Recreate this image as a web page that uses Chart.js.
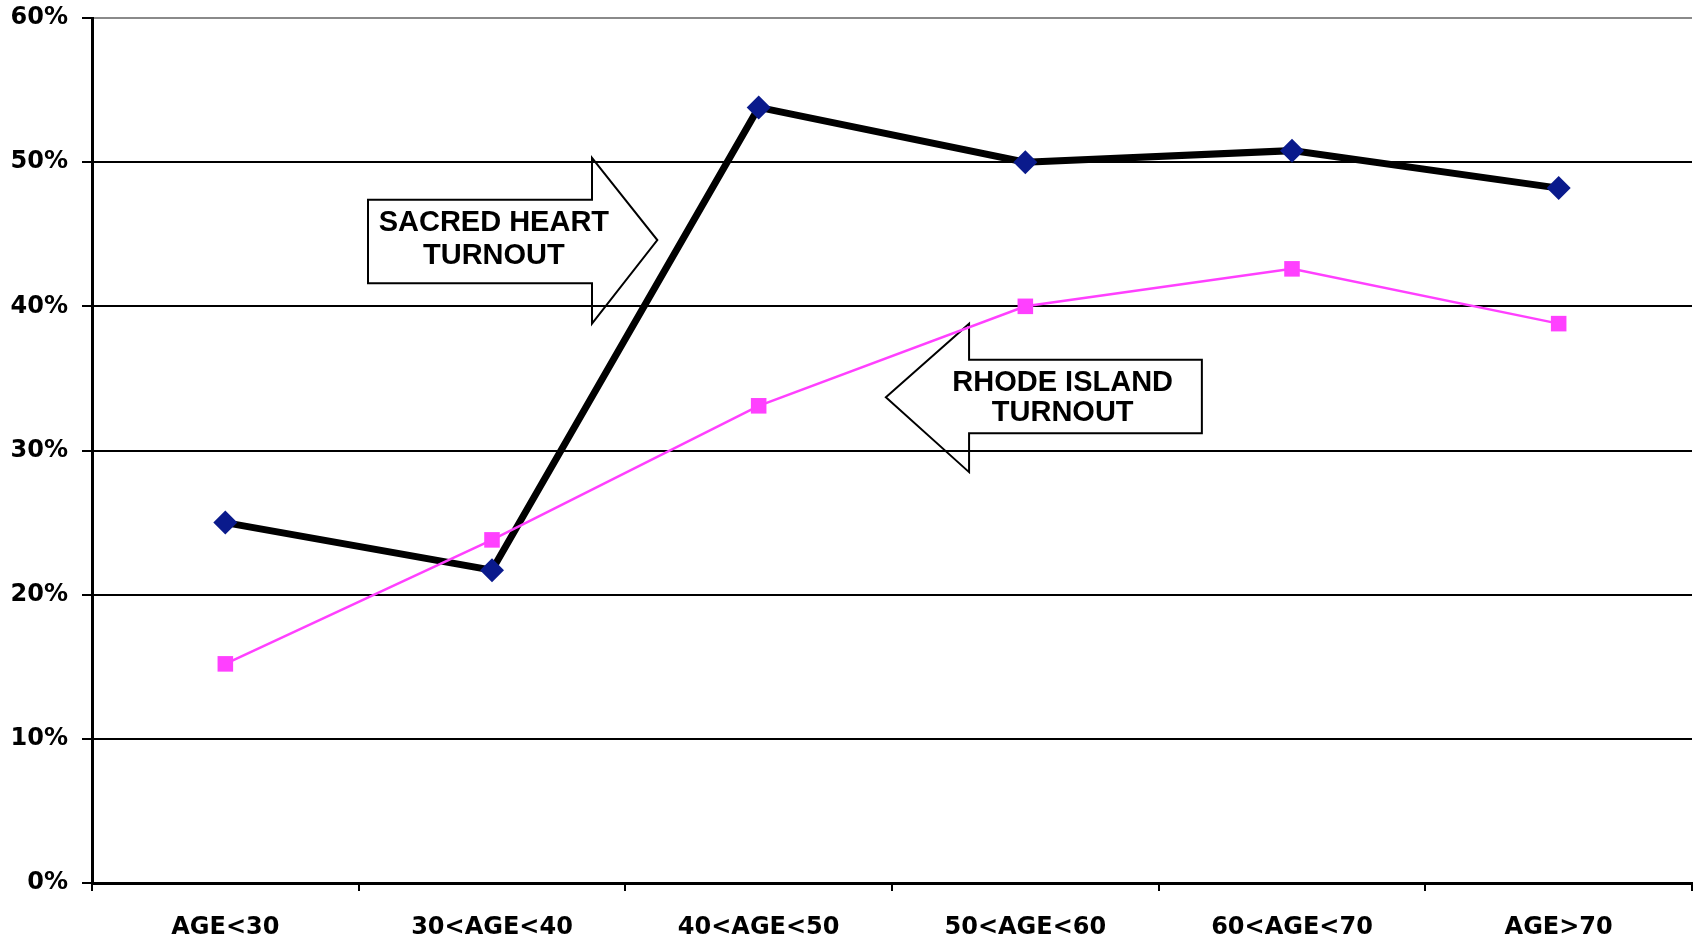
<!DOCTYPE html>
<html>
<head>
<meta charset="utf-8">
<script src="https://cdn.jsdelivr.net/npm/chart.js@4/dist/chart.umd.min.js"></script>
<style>
  html, body { margin: 0; padding: 0; background: #fff; }
  #wrap { width: 1694px; height: 943px; }
</style>
</head>
<body>
<div id="wrap"><canvas id="turnoutChart" width="1694" height="943"></canvas></div>
<script>
// Chart values
var ageGroups = ['AGE<30', '30<AGE<40', '40<AGE<50', '50<AGE<60', '60<AGE<70', 'AGE>70'];
var sacredHeart = [25.0, 21.7, 53.8, 50.0, 50.8, 48.2];
var rhodeIsland = [15.2, 23.8, 33.1, 40.0, 42.6, 38.8];
var yTicks = [0, 10, 20, 30, 40, 50, 60];

var FONT = "'Liberation Sans', Arial, sans-serif";
var WIDE = "'DejaVu Sans', Verdana, sans-serif";

// Arrow callouts (drawn under the grid, in scale units)
var arrowPlugin = {
  id: 'arrows',
  beforeDraw: function(chart){
    var ctx = chart.ctx;
    var xs = chart.scales.x, ys = chart.scales.y;
    var px = function(v){ return xs.getPixelForValue(v); };
    var py = function(v){ return ys.getPixelForValue(v); };

    ctx.save();
    ctx.fillStyle = '#fff';
    ctx.strokeStyle = '#000';
    ctx.lineWidth = 2;
    ctx.lineJoin = 'miter';

    // Sacred Heart - points right
    ctx.beginPath();
    ctx.moveTo(px(0.535), py(47.4));
    ctx.lineTo(px(1.375), py(47.4));
    ctx.lineTo(px(1.375), py(50.3));
    ctx.lineTo(px(1.62), py(44.6));
    ctx.lineTo(px(1.375), py(38.8));
    ctx.lineTo(px(1.375), py(41.6));
    ctx.lineTo(px(0.535), py(41.6));
    ctx.closePath();
    ctx.fill();
    ctx.stroke();

    // Rhode Island - points left
    ctx.beginPath();
    ctx.moveTo(px(3.662), py(36.3));
    ctx.lineTo(px(2.789), py(36.3));
    ctx.lineTo(px(2.789), py(38.8));
    ctx.lineTo(px(2.477), py(33.7));
    ctx.lineTo(px(2.789), py(28.5));
    ctx.lineTo(px(2.789), py(31.2));
    ctx.lineTo(px(3.662), py(31.2));
    ctx.closePath();
    ctx.fill();
    ctx.stroke();

    ctx.fillStyle = '#000';
    ctx.font = 'bold 29px ' + FONT;
    ctx.textAlign = 'center';
    ctx.textBaseline = 'middle';
    ctx.fillText('SACRED HEART', px(1.007), py(45.8));
    ctx.fillText('TURNOUT', px(1.007), py(43.5));
    ctx.fillText('RHODE ISLAND', px(3.14), py(34.7));
    ctx.fillText('TURNOUT', px(3.14), py(32.6));
    ctx.restore();
  }
};

var turnoutctx = document.getElementById('turnoutChart').getContext('2d');
var turnoutChart = new Chart(turnoutctx, {
  type: 'line',
  data: {
    labels: ageGroups,
    datasets: [{
      label: 'Sacred Heart Turnout',
      data: sacredHeart,
      borderColor: '#000',
      borderWidth: 7,
      pointStyle: 'rectRot',
      pointRadius: 12,
      pointBackgroundColor: '#0a1a8c',
      pointBorderColor: '#0a1a8c',
      pointBorderWidth: 0,
      tension: 0,
      order: 1
    }, {
      label: 'Rhode Island Turnout',
      data: rhodeIsland,
      borderColor: '#ff40ff',
      borderWidth: 2.5,
      pointStyle: 'rect',
      pointRadius: 11,
      pointBackgroundColor: '#ff40ff',
      pointBorderColor: '#ff40ff',
      pointBorderWidth: 0,
      tension: 0,
      order: 0
    }]
  },
  options: {
    responsive: false,
    animation: false,
    layout: { autoPadding: false, padding: { top: 18, right: 2, left: 0, bottom: 0 } },
    plugins: {
      legend: { display: false },
      tooltip: { enabled: false }
    },
    scales: {
      x: {
        offset: true,
        grid: {
          offset: true,
          drawOnChartArea: true,
          color: function(c){ return c.index === 6 ? '#8a8a8a' : 'rgba(0,0,0,0)'; },
          lineWidth: 2,
          tickColor: '#000',
          tickLength: 8
        },
        border: { color: '#000', width: 3 },
        ticks: {
          color: '#000',
          padding: 22,
          font: { family: WIDE, size: 24, weight: 'bold' },
          maxRotation: 0
        },
        afterFit: function(scale){
          scale.height = 60;
          scale.paddingLeft = 0;
          scale.paddingRight = 0;
        }
      },
      y: {
        min: 0,
        max: 60,
        afterBuildTicks: function(scale){
          scale.ticks = yTicks.map(function(v){ return { value: v }; });
        },
        grid: {
          color: function(c){ return c.index === 6 ? '#8a8a8a' : '#000'; },
          lineWidth: 2,
          tickColor: '#000',
          tickLength: 10
        },
        border: { color: '#000', width: 3 },
        ticks: {
          color: '#000',
          padding: 14,
          font: { family: WIDE, size: 24, weight: 'bold' },
          callback: function(v){ return v + '%'; }
        },
        afterFit: function(scale){
          scale.width = 92;
          scale.paddingTop = 0;
          scale.paddingBottom = 0;
        }
      }
    }
  },
  plugins: [arrowPlugin]
});
</script>
</body>
</html>
